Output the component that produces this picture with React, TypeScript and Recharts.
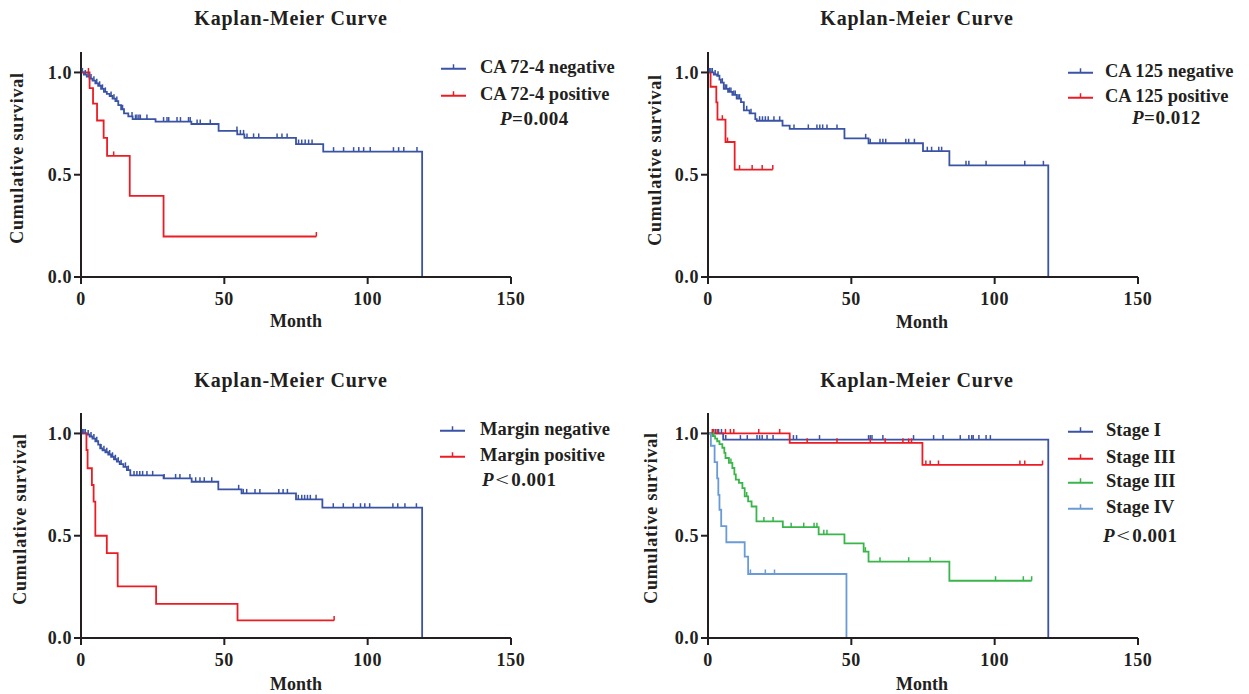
import React from "react";
import { LineChart, Line, XAxis, YAxis } from "recharts";

const FONT = '"Liberation Serif", "Times New Roman", Times, serif';
const INK = "#231f20";
const BLUE = "#3a53a4";
const RED = "#ec1c24";
const GREEN = "#39b54a";
const LIGHT_BLUE = "#6a9bd6";

type Step = [number, number];
type Curve = { name: string; color: string; events: Step[]; censors: number[] };

const X_TICKS = [0, 50, 100, 150];
const Y_TICKS = [0, 0.5, 1.0];
const TITLE = "Kaplan-Meier Curve";

// ---- CA 72-4 ----
const CA724_NEG_EVENTS: Step[] = [
  [0, 1], [1, 0.99], [2, 0.98], [3, 0.97], [4, 0.96], [5, 0.947], [6, 0.935], [7, 0.92],
  [8, 0.905], [9, 0.895], [10, 0.885], [11, 0.872], [12, 0.86], [13, 0.84], [14, 0.82],
  [15, 0.8], [16.5, 0.785], [18, 0.772], [26, 0.76], [38.5, 0.748], [48, 0.714],
  [54.5, 0.697], [57, 0.68], [75, 0.65], [84.5, 0.613], [119, 0],
];
const CA724_NEG_CENSORS = [
  0.5, 1.5, 2.5, 3.5, 4.5, 5.5, 6.5, 7.5, 8.5, 10.5, 11.5, 12.5, 14.5, 17.8, 19, 19.5, 20.2,
  20.7, 23, 28.8, 30, 30.6, 33.5, 34.7, 37.5, 38.1, 40.5, 41.6, 45.1, 54.4, 55.6, 56.7, 57.9,
  60.2, 62, 68.4, 70.1, 71.9, 75.9, 77, 78.2, 79.4, 80.6, 88.1, 91.6, 95.1, 96.9, 98.6, 100.9,
  109, 110.8, 112.6, 117.2,
];
const CA724_POS_EVENTS: Step[] = [
  [0, 1], [3, 0.923], [4.2, 0.848], [5.6, 0.765], [7.9, 0.68], [9.1, 0.592], [17, 0.397], [28.8, 0.198],
];
const CA724_POS_CENSORS = [2.6, 11.4, 82.1];

// ---- CA 125 ----
const CA125_NEG_EVENTS: Step[] = [
  [0, 1], [2, 0.99], [3.2, 0.984], [4, 0.965], [4.5, 0.95], [5.5, 0.92], [7, 0.905], [8.5, 0.89],
  [10, 0.872], [11.5, 0.855], [12.5, 0.815], [14.5, 0.8], [16.5, 0.772], [17, 0.764], [26, 0.74],
  [28.5, 0.724], [47.6, 0.678], [56, 0.654], [75, 0.615], [84.2, 0.546], [118.7, 0],
];
const CA125_NEG_CENSORS = [
  0.5, 1, 1.5, 2.5, 3.5, 5, 6, 6.5, 7.5, 8, 9, 9.5, 10.5, 11, 13.5, 15, 18, 19, 20, 21, 23, 25,
  30, 35, 38, 39, 40, 41.5, 45, 55, 56.6, 60, 61, 62, 69, 70, 72, 76.5, 78, 80.5, 81.5, 90, 91,
  97, 110.5, 117,
];
const CA125_POS_EVENTS: Step[] = [
  [0, 1], [0.9, 0.93], [2.9, 0.854], [3.3, 0.769], [6.1, 0.66], [9.3, 0.525],
];
const CA125_POS_CENSORS = [5, 6.8, 11, 15.4, 18.9, 22.6];

// ---- Margin ----
const MARGIN_NEG_EVENTS: Step[] = [
  [0, 1], [2, 0.995], [3, 0.985], [4, 0.975], [5, 0.962], [6, 0.945], [6.7, 0.927], [7.5, 0.918],
  [8.5, 0.908], [9.5, 0.897], [10.5, 0.886], [11.5, 0.874], [12.5, 0.862], [13.5, 0.85],
  [14.8, 0.837], [16, 0.821], [17.2, 0.795], [28.8, 0.78], [38.6, 0.764], [47.9, 0.727],
  [56, 0.707], [75, 0.678], [84.2, 0.637], [119, 0],
];
const MARGIN_NEG_CENSORS = [
  0.5, 1, 1.5, 2.5, 3.5, 4.5, 5.5, 7, 8, 9, 10, 11, 12, 13, 14, 15.5, 16.5, 18.5, 19.5, 20.5,
  21.5, 23, 25, 29, 33, 34.5, 38, 40, 41.5, 43, 45.6, 55, 56.6, 57.8, 60.7, 62.4, 69, 70.5, 72,
  75.8, 77, 78, 79, 80, 82, 88, 91.5, 95, 97.5, 99, 100.7, 108.8, 110.5, 113, 117,
];
const MARGIN_POS_EVENTS: Step[] = [
  [0, 1], [1.9, 0.919], [2.3, 0.83], [3.8, 0.748], [4.4, 0.667], [5, 0.5], [9, 0.415],
  [12.8, 0.252], [26.2, 0.167], [54.6, 0.086],
];
const MARGIN_POS_CENSORS = [88.3];

// ---- Stage ----
const STAGE1_EVENTS: Step[] = [[0, 1], [5.3, 0.97], [118.7, 0]];
const STAGE1_CENSORS = [
  2.6, 3.7, 4.7, 6.2, 11.3, 13.7, 17.1, 18, 18.9, 20.6, 22.7, 29.8, 30.9, 38.9, 56, 56.6, 57.2,
  61, 71.7, 78.7, 82, 88, 91, 92, 92.5, 94.5, 97, 98.5,
];
const STAGE2_EVENTS: Step[] = [[0, 1], [28.5, 0.954], [74.8, 0.846]];
const STAGE2_CENSORS = [
  1.5, 2, 3.2, 6.1, 7.8, 9, 17.7, 25, 34.6, 45, 56.6, 61.8, 68, 70, 71, 76, 77.5, 80.4, 108.8,
  110.5, 116.7,
];
const STAGE3_EVENTS: Step[] = [
  [0, 1], [1.5, 0.987], [2.5, 0.975], [3.2, 0.962], [4, 0.948], [5, 0.93], [5.7, 0.905],
  [6.1, 0.88], [7.3, 0.856], [8.5, 0.831], [9.2, 0.8], [9.7, 0.774], [10.8, 0.758], [12, 0.733],
  [12.8, 0.692], [14, 0.668], [15.2, 0.643], [16.9, 0.57], [26.1, 0.542], [38.6, 0.507],
  [47.6, 0.463], [54.3, 0.422], [56, 0.373], [84.2, 0.28],
];
const STAGE3_CENSORS = [
  2, 8, 13.5, 19.5, 22.7, 29, 33.4, 37, 38, 40.4, 41.5, 54.9, 60, 70, 77.5, 100.3, 110, 112.9,
];
const STAGE4_EVENTS: Step[] = [
  [0, 1], [1, 0.94], [2.3, 0.86], [3.2, 0.78], [3.6, 0.7], [4, 0.627], [4.6, 0.547], [6.4, 0.468],
  [12.8, 0.398], [14, 0.313], [48.3, 0],
];
const STAGE4_CENSORS = [14.8, 20, 23.2];

type Pt = { t: number; s: number; c: boolean };

function buildPoints(events: Step[], censors: number[]): Pt[] {
  const pts: Pt[] = events.map(([t, s]) => ({ t, s, c: false }));
  for (const t of censors) {
    // censor mark sits on the current survival level
    let s = events[0][1];
    for (const [et, es] of events) if (et <= t) s = es;
    pts.push({ t, s, c: true });
  }
  return pts.sort((a, b) => a.t - b.t || Number(a.c) - Number(b.c));
}

const censorDot = (color: string) => (p: any) => {
  const key = `d-${p.index}`;
  if (!p.payload || !p.payload.c) return <g key={key} />;
  return (
    <line key={key} x1={p.cx} x2={p.cx} y1={p.cy} y2={p.cy - 4.5} stroke={color} strokeWidth={1.5} />
  );
};

const axisStyle = { stroke: INK, strokeWidth: 2 };
const tickStyle = { fontSize: 18, fontWeight: 700, fill: INK, fontFamily: FONT, letterSpacing: 0.6 };

function KMChart({ left, top, curves }: { left: number; top: number; curves: Curve[] }) {
  return (
    <div style={{ position: "absolute", left, top }}>
      <LineChart width={620} height={350} margin={{ top: 52, right: 109, bottom: 33, left: 0 }}>
        <XAxis
          type="number"
          dataKey="t"
          domain={[0, 150]}
          ticks={X_TICKS}
          interval={0}
          height={40}
          tickSize={7}
          tickMargin={8}
          axisLine={axisStyle}
          tickLine={axisStyle}
          tick={tickStyle}
        />
        <YAxis
          type="number"
          domain={[0, 1.1]}
          ticks={Y_TICKS}
          interval={0}
          width={81}
          tickSize={7}
          tickMargin={2}
          tickFormatter={(v: number) => v.toFixed(1)}
          axisLine={axisStyle}
          tickLine={axisStyle}
          tick={tickStyle}
        />
        {curves.map((c, i) => (
          <Line
            key={`${c.name}-${i}`}
            data={buildPoints(c.events, c.censors)}
            dataKey="s"
            type="stepAfter"
            stroke={c.color}
            strokeWidth={1.8}
            dot={censorDot(c.color)}
            activeDot={false}
            isAnimationActive={false}
          />
        ))}
      </LineChart>
    </div>
  );
}

const textBase: React.CSSProperties = {
  position: "absolute",
  fontFamily: FONT,
  fontWeight: 700,
  color: INK,
  whiteSpace: "nowrap",
  lineHeight: 1,
};

function Title({ x, y }: { x: number; y: number }) {
  return (
    <div style={{ ...textBase, left: x, top: y, fontSize: 20, letterSpacing: 0.8, transform: "translate(-50%, -50%)" }}>
      {TITLE}
    </div>
  );
}

function YLabel({ x, y }: { x: number; y: number }) {
  return (
    <div
      style={{
        ...textBase,
        left: x,
        top: y,
        fontSize: 18,
        letterSpacing: 0.8,
        transform: "translate(-50%, -50%) rotate(-90deg)",
      }}
    >
      Cumulative survival
    </div>
  );
}

function XLabel({ x, y }: { x: number; y: number }) {
  return (
    <div style={{ ...textBase, left: x, top: y, fontSize: 18, transform: "translate(-50%, -50%)" }}>
      Month
    </div>
  );
}

function LegendRow({ x, textX, y, color, label }: { x: number; textX: number; y: number; color: string; label: string }) {
  return (
    <div
      style={{
        ...textBase,
        left: x,
        top: y,
        fontSize: 18.5,
        display: "flex",
        alignItems: "center",
        transform: "translateY(-50%)",
      }}
    >
      <svg width={25} height={10} style={{ display: "block" }}>
        <line x1={0} x2={25} y1={7} y2={7} stroke={color} strokeWidth={1.8} />
        <line x1={12.5} x2={12.5} y1={7} y2={2.5} stroke={color} strokeWidth={1.5} />
      </svg>
      <span style={{ marginLeft: textX - x - 25 }}>{label}</span>
    </div>
  );
}

function PText({ x, y, op, value }: { x: number; y: number; op: string; value: string }) {
  const wide = op !== "=";
  return (
    <div style={{ ...textBase, left: x, top: y, fontSize: 19, letterSpacing: 0.5, transform: "translateY(-50%)" }}>
      <i>P</i>
      {wide ? (
        <span
          style={{
            display: "inline-block",
            fontWeight: 400,
            fontSize: 18,
            lineHeight: 1,
            letterSpacing: 0,
            margin: "0 4px 0 3px",
            transform: "scaleX(1.35)",
          }}
        >
          {op}
        </span>
      ) : (
        op
      )}
      {value}
    </div>
  );
}

const CA724_CURVES: Curve[] = [
  { name: "CA 72-4 negative", color: BLUE, events: CA724_NEG_EVENTS, censors: CA724_NEG_CENSORS },
  { name: "CA 72-4 positive", color: RED, events: CA724_POS_EVENTS, censors: CA724_POS_CENSORS },
];
const CA125_CURVES: Curve[] = [
  { name: "CA 125 negative", color: BLUE, events: CA125_NEG_EVENTS, censors: CA125_NEG_CENSORS },
  { name: "CA 125 positive", color: RED, events: CA125_POS_EVENTS, censors: CA125_POS_CENSORS },
];
const MARGIN_CURVES: Curve[] = [
  { name: "Margin negative", color: BLUE, events: MARGIN_NEG_EVENTS, censors: MARGIN_NEG_CENSORS },
  { name: "Margin positive", color: RED, events: MARGIN_POS_EVENTS, censors: MARGIN_POS_CENSORS },
];
const STAGE_CURVES: Curve[] = [
  { name: "Stage I", color: BLUE, events: STAGE1_EVENTS, censors: STAGE1_CENSORS },
  { name: "Stage III", color: RED, events: STAGE2_EVENTS, censors: STAGE2_CENSORS },
  { name: "Stage III", color: GREEN, events: STAGE3_EVENTS, censors: STAGE3_CENSORS },
  { name: "Stage IV", color: LIGHT_BLUE, events: STAGE4_EVENTS, censors: STAGE4_CENSORS },
];

if (typeof document !== "undefined") document.body.style.margin = "0";

export default function App() {
  return (
    <div style={{ position: "relative", width: 1249, height: 694, background: "#fff", overflow: "hidden" }}>
      {/* top-left */}
      <KMChart left={0} top={0} curves={CA724_CURVES} />
      <Title x={291} y={18} />
      <YLabel x={17} y={158} />
      <XLabel x={296} y={321} />
      <LegendRow x={441} textX={480} y={67} color={BLUE} label={CA724_CURVES[0].name} />
      <LegendRow x={441} textX={480} y={94} color={RED} label={CA724_CURVES[1].name} />
      <PText x={500} y={118} op="=" value="0.004" />

      {/* top-right */}
      <KMChart left={627} top={0} curves={CA125_CURVES} />
      <Title x={917} y={18} />
      <YLabel x={655} y={160} />
      <XLabel x={922} y={322} />
      <LegendRow x={1068} textX={1105} y={71} color={BLUE} label={CA125_CURVES[0].name} />
      <LegendRow x={1068} textX={1105} y={96} color={RED} label={CA125_CURVES[1].name} />
      <PText x={1132} y={117} op="=" value="0.012" />

      {/* bottom-left */}
      <KMChart left={0} top={361} curves={MARGIN_CURVES} />
      <Title x={291} y={380} />
      <YLabel x={20} y={519} />
      <XLabel x={296} y={684} />
      <LegendRow x={440} textX={480} y={429} color={BLUE} label={MARGIN_CURVES[0].name} />
      <LegendRow x={440} textX={480} y={455} color={RED} label={MARGIN_CURVES[1].name} />
      <PText x={482} y={479} op="<" value="0.001" />

      {/* bottom-right */}
      <KMChart left={627} top={361} curves={STAGE_CURVES} />
      <Title x={917} y={380} />
      <YLabel x={651} y={518} />
      <XLabel x={922} y={684} />
      {STAGE_CURVES.map((c, i) => (
        <LegendRow key={i} x={1068} textX={1106} y={[430, 457, 481, 507][i]} color={c.color} label={c.name} />
      ))}
      <PText x={1103} y={535} op="<" value="0.001" />
    </div>
  );
}
